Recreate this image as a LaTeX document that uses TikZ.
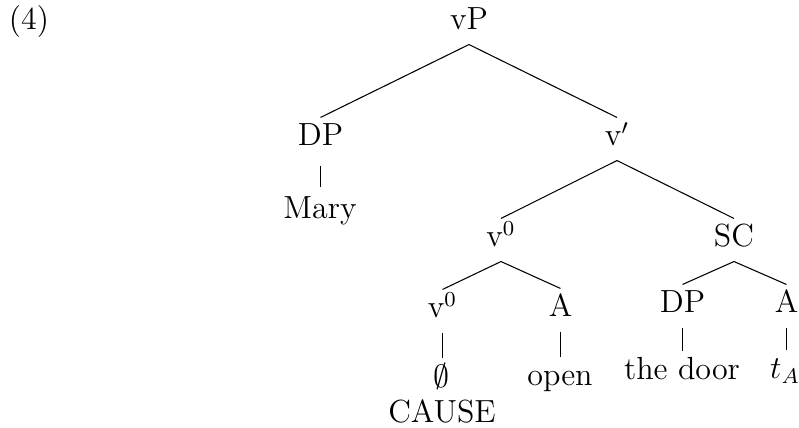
\documentclass[tikz,border=0pt]{standalone}
\begin{document}
\begin{tikzpicture}[x=0.375pt,y=-0.375pt,
  cat/.style={inner sep=0pt, text height=10.5pt, text depth=5.25pt,
              anchor=base, font=\fontsize{12}{14.4}\selectfont},
  branch/.style={line width=0.4pt},
  leafline/.style={line width=0.4pt}]
\useasboundingbox (0,0) rectangle (799,428);

% example number
\node[cat] (ex) at (29,30) {(4)};

% tree nodes
\node[cat] (vP)     at (469,30)    {vP};
\node[cat] (dpa)    at (320.5,146) {DP};
\node[cat] (mary)   at (320,218)   {Mary};
\node[cat] (vbar)   at (617,146)   {v$'$};
\node[cat] (vzup)   at (501,247)   {v$^0$};
\node[cat] (sc)     at (734,247)   {SC};
\node[cat] (vzlow)  at (442.5,318) {v$^0$};
\node[cat] (aopen)  at (560.5,317) {A};
\node[cat] (dpb)    at (682.5,313) {DP};
\node[cat] (atr)    at (786.5,313) {A};
\node[cat] (empty)  at (442,387)   {$\emptyset$};
\node[cat] (cause)  at (442,423)   {CAUSE};
\node[cat] (open)   at (560,386)   {open};
\node[cat] (door)   at (682,379.5) {the door};
\node[cat] (trace)  at (785,379)   {$t_A$};

% branching edges
\draw[branch] (vP.south) -- (dpa.north);
\draw[branch] (vP.south) -- (vbar.north);
\draw[branch] (vbar.south) -- (vzup.north);
\draw[branch] (vbar.south) -- (sc.north);
\draw[branch] (vzup.south) -- (vzlow.north);
\draw[branch] (vzup.south) -- (aopen.north);
\draw[branch] (sc.south) -- (dpb.north);
\draw[branch] (sc.south) -- (atr.north);

% unary edges to the leaves
\draw[leafline, shorten <=1.9pt, shorten >=1.1pt] (dpa.south) -- (dpa.south |- mary.north);
\draw[leafline] (vzlow.south) -- (vzlow.south |- empty.north);
\draw[leafline] (aopen.south) -- (aopen.south |- open.north);
\draw[leafline] (dpb.south) -- (dpb.south |- door.north);
\draw[leafline] (atr.south) -- (atr.south |- trace.north);
\end{tikzpicture}
\end{document}
